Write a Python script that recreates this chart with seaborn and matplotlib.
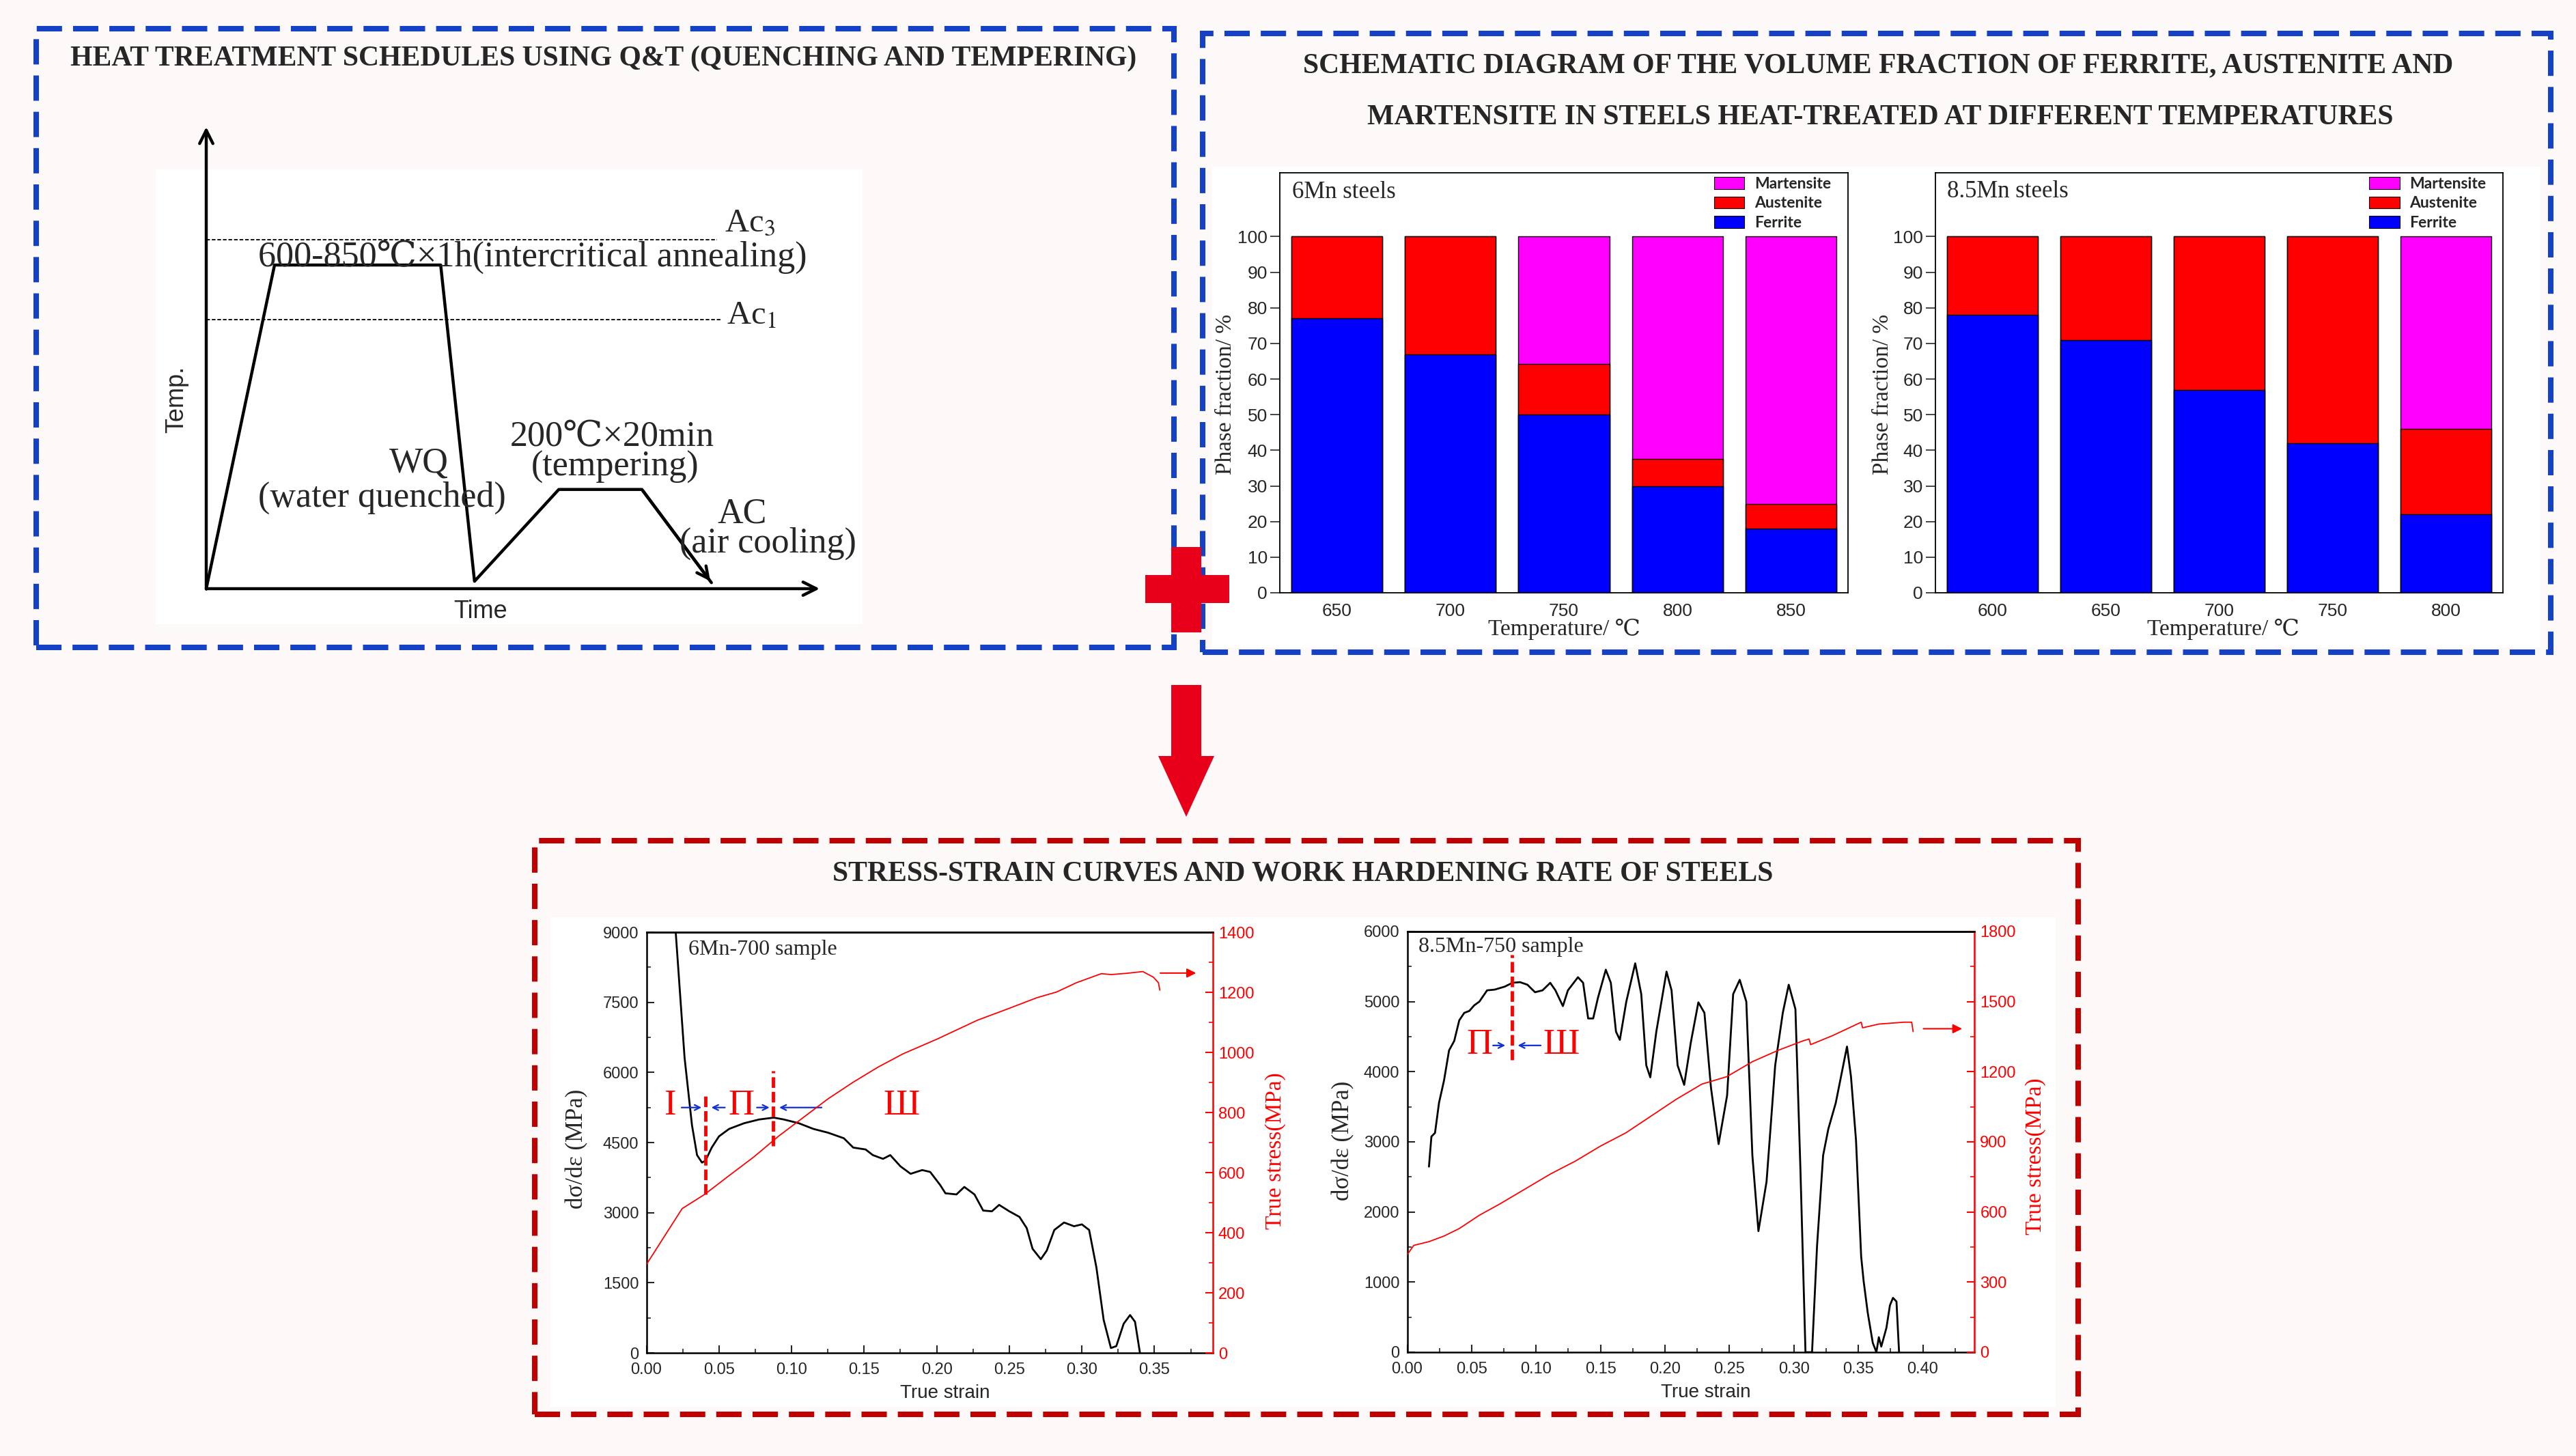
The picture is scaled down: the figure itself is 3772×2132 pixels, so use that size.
import numpy as np
import pandas as pd
import matplotlib
matplotlib.use('Agg')
import matplotlib.pyplot as plt
import seaborn as sns
from matplotlib.patches import Rectangle, Polygon, Patch
from matplotlib.ticker import MultipleLocator, FormatStrFormatter

# ---------------- data ----------------
# heat treatment schedule (schematic units, 0-100)
schedule_time = [0, 11.1, 38.1, 43.6, 57.3, 70.8, 82.1]
schedule_temp = [0, 69.8, 69.8, 1.6, 21.4, 21.4, 1.3]
ac3_temp = 75.3
ac1_temp = 58.0

# phase fractions (%)
temps_6mn = [650, 700, 750, 800, 850]
ferrite_6mn = [77, 67, 50, 30, 18]
austenite_6mn = [23, 33, 14.3, 7.5, 7]
martensite_6mn = [0, 0, 35.7, 62.5, 75]

temps_85mn = [600, 650, 700, 750, 800]
ferrite_85mn = [78, 71, 57, 42, 22]
austenite_85mn = [22, 29, 43, 58, 24]
martensite_85mn = [0, 0, 0, 0, 54]

# 6Mn-700: work hardening rate and true stress
strain_wh_6 = [0.0196, 0.0202, 0.0263, 0.0314, 0.0349, 0.0383, 0.0407, 0.045, 0.050, 0.057, 0.0673,
               0.0776, 0.0878, 0.0947, 0.105, 0.115, 0.125, 0.136, 0.1425, 0.151, 0.156, 0.163, 0.168,
               0.175, 0.182, 0.190, 0.1955, 0.2024, 0.206, 0.2136, 0.219, 0.226, 0.232, 0.238, 0.243,
               0.250, 0.257, 0.262, 0.266, 0.2717, 0.2758, 0.281, 0.2877, 0.2946, 0.300, 0.305, 0.310,
               0.315, 0.320, 0.3237, 0.3288, 0.3332, 0.3366, 0.340]
rate_6 = [9300, 9000, 6315, 4872, 4231, 4071, 4111, 4392, 4632, 4792, 4913,
          4993, 5033, 4993, 4913, 4792, 4712, 4592, 4392, 4352, 4231, 4151, 4231,
          3991, 3831, 3911, 3871, 3590, 3414, 3390, 3550, 3390, 3045, 3029, 3166,
          3029, 2909, 2669, 2228, 2004, 2188, 2629, 2789, 2709, 2749, 2629, 1827,
          705, 104, 144, 625, 809, 665, 0]
strain_ts_6 = [0.0, 0.0246, 0.040, 0.057, 0.074, 0.091, 0.108, 0.125, 0.1425, 0.1596, 0.1767, 0.2006,
               0.228, 0.2485, 0.269, 0.2826, 0.2963, 0.3134, 0.320, 0.3305, 0.342, 0.3493, 0.3527, 0.3537]
stress_6 = [294, 480, 527, 590, 652, 721, 783, 845, 901, 951, 995, 1045,
            1107, 1144, 1182, 1201, 1232, 1262, 1259, 1263, 1269, 1250, 1232, 1207]

# 8.5Mn-750: work hardening rate and true stress
strain_wh_85 = [0.0169, 0.0188, 0.0216, 0.0247, 0.0286, 0.0325, 0.0365, 0.0404, 0.0443, 0.0482, 0.052,
                0.056, 0.062, 0.0678, 0.0757, 0.0816, 0.0875, 0.0933, 0.0992, 0.105, 0.111, 0.115,
                0.1208, 0.1247, 0.1325, 0.1365, 0.1404, 0.1443, 0.148, 0.1541, 0.158, 0.162, 0.165,
                0.170, 0.1769, 0.1816, 0.1855, 0.1886, 0.1933, 0.2012, 0.2051, 0.2098, 0.2149, 0.220,
                0.2259, 0.2306, 0.2357, 0.2416, 0.2482, 0.2529, 0.258, 0.2631, 0.2678, 0.2725, 0.2788,
                0.2855, 0.2914, 0.296, 0.3012, 0.3051, 0.309, 0.3141, 0.318, 0.3227, 0.3267, 0.3325,
                0.3412, 0.3443, 0.3482, 0.3522, 0.3541, 0.3573, 0.3612, 0.364, 0.3659, 0.3678, 0.3718,
                0.3745, 0.3769, 0.3796, 0.3816]
rate_85 = [2647, 3075, 3128, 3556, 3877, 4305, 4439, 4733, 4840, 4867, 4947,
           5000, 5161, 5171, 5214, 5268, 5278, 5241, 5134, 5161, 5268, 5161,
           4936, 5161, 5348, 5268, 4760, 4760, 5054, 5455, 5268, 4572, 4455,
           5000, 5546, 5107, 4091, 3920, 4573, 5428, 5161, 4091, 3813, 4412,
           4990, 4840, 3770, 2968, 3663, 5107, 5311, 5000, 2808, 1727, 2433,
           4091, 4840, 5241, 4893, 2594, 0, 0, 1524, 2808, 3182, 3556,
           4359, 3931, 3022, 1364, 1016, 562, 134, 0, 214, 80, 348,
           668, 775, 722, 0]
strain_ts_85 = [0.0, 0.0051, 0.0169, 0.0286, 0.0404, 0.056, 0.0718, 0.0914, 0.111, 0.1306, 0.150,
                0.1698, 0.1894, 0.209, 0.2286, 0.248, 0.2678, 0.2875, 0.307, 0.3118, 0.313, 0.3306,
                0.3522, 0.3533, 0.3659, 0.3855, 0.3914, 0.3925]
stress_85 = [417, 457, 473, 497, 529, 586, 634, 698, 762, 818, 882,
             939, 1011, 1083, 1147, 1179, 1243, 1291, 1332, 1340, 1316, 1356,
             1412, 1388, 1404, 1412, 1412, 1372]

# stage boundaries (strain) drawn as dashed red lines
bounds_6 = [0.0407, 0.0875]
bounds_85 = [0.0812]

# ---------------- style ----------------
W, H = 3772, 2132
SERIF = ['Liberation Serif', 'DejaVu Serif', 'Noto Sans CJK SC']
SANS = ['Liberation Sans', 'DejaVu Sans']
BLUE_BOX = '#1441C6'
RED_BOX = '#C00000'
BG = '#FDF9F8'

sns.set_theme(style='ticks')
plt.rcParams['font.family'] = SANS
plt.rcParams['mathtext.fontset'] = 'stix'


def rect(l, t, r, b):
    return [l / W, 1 - b / H, (r - l) / W, (b - t) / H]


def fig_rect(fig, l, t, r, b, **kw):
    fig.add_artist(Rectangle((l / W, 1 - b / H), (r - l) / W, (b - t) / H,
                             transform=fig.transFigure, **kw))


def dashed_box(fig, l, t, r, b, color):
    fig_rect(fig, l, t, r, b, fill=False, ec=color, lw=5.8, ls=(0, (4.6, 2.0)), zorder=2)


def heat_panel(fig):
    fig_rect(fig, 228, 248, 1263, 914, fc='white', ec='none', zorder=-1)
    ax = fig.add_axes(rect(302, 183, 1203, 862))
    ax.set_xlim(0, 100)
    ax.set_ylim(0, 100)
    ax.axis('off')
    sns.lineplot(x=schedule_time, y=schedule_temp, sort=False, estimator=None,
                 color='black', lw=3.2, ax=ax)
    ax.annotate('', xy=(schedule_time[-1], schedule_temp[-1]),
                xytext=(schedule_time[-2], schedule_temp[-2]),
                arrowprops=dict(arrowstyle='->', lw=3.2, color='black', mutation_scale=30))
    for line in ax.lines:
        line.set_clip_on(False)
    # axes arrows
    ax.annotate('', xy=(0, 100), xytext=(0, -0.5), annotation_clip=False,
                arrowprops=dict(arrowstyle='->', lw=3.2, color='black', mutation_scale=35))
    ax.annotate('', xy=(100, 0), xytext=(-0.3, 0), annotation_clip=False,
                arrowprops=dict(arrowstyle='->', lw=3.2, color='black', mutation_scale=35))
    ax.plot([0, 83], [ac3_temp, ac3_temp], color='black', lw=1.3, ls=(0, (3, 1.5)))
    ax.plot([0, 83.6], [ac1_temp, ac1_temp], color='black', lw=1.3, ls=(0, (3, 1.5)))
    ax.text(84.2, 78.9, 'Ac$_3$', family=SERIF, fontsize=35, va='center', ha='left')
    ax.text(84.6, 58.8, 'Ac$_1$', family=SERIF, fontsize=35, va='center', ha='left')
    ax.text(8.4, 71.5, '600-850℃×1h(intercritical annealing)', family=SERIF, fontsize=37.5,
            va='center', ha='left')
    ax.text(34.6, 27.0, 'WQ', family=SERIF, fontsize=37.5, va='center', ha='center')
    ax.text(28.6, 19.6, '(water quenched)', family=SERIF, fontsize=37.5, va='center', ha='center')
    ax.text(66.0, 32.7, '200℃×20min', family=SERIF, fontsize=37.5, va='center', ha='center')
    ax.text(66.4, 26.2, '(tempering)', family=SERIF, fontsize=37.5, va='center', ha='center')
    ax.text(87.1, 16.1, 'AC', family=SERIF, fontsize=37.5, va='center', ha='center')
    ax.text(91.3, 9.7, '(air cooling)', family=SERIF, fontsize=37.5, va='center', ha='center')
    ax.text(-4.8, 40.8, 'Temp.', family=SANS, fontsize=26, va='center', ha='center', rotation=90)
    ax.text(44.6, -5.0, 'Time', family=SANS, fontsize=26, va='center', ha='center')


def bar_panel(fig, pos, temps, ferrite, austenite, martensite, name, name_xy, ylab_x, xlab_x):
    ax = fig.add_axes(pos)
    fa = np.add(ferrite, austenite)
    df = pd.DataFrame({'temp': [str(t) for t in temps], 'ferrite': ferrite,
                       'fa': fa, 'total': np.add(fa, martensite)})
    for col, c in [('total', '#FF00FF'), ('fa', '#FF0000'), ('ferrite', '#0000FF')]:
        sns.barplot(data=df, x='temp', y=col, color=c, saturation=1, width=0.8,
                    edgecolor='black', linewidth=1.0, errorbar=None, ax=ax)
    ax.set_xlim(-0.5, 4.5)
    ax.set_ylim(0, 117.9)
    ax.set_yticks(range(0, 101, 10))
    ax.tick_params(axis='y', direction='out', length=10, width=1.2, labelsize=19, pad=3)
    ax.tick_params(axis='x', length=0, labelsize=19, pad=11)
    for sp in ax.spines.values():
        sp.set_linewidth(1.3)
        sp.set_color('black')
    ax.set_ylabel('Phase fraction/ %', family=SERIF, fontsize=24)
    ax.yaxis.set_label_coords(ylab_x, 0.473)
    ax.set_xlabel('Temperature/ ℃', family=SERIF, fontsize=24, va='top')
    ax.xaxis.set_label_coords(xlab_x, -0.062)
    ax.text(name_xy[0], name_xy[1], name, transform=ax.transAxes, family=SERIF, fontsize=25,
            va='center', ha='left')
    handles = [Patch(fc='#FF00FF', ec='black', lw=0.8), Patch(fc='#FF0000', ec='black', lw=0.8),
               Patch(fc='#0000FF', ec='black', lw=0.8)]
    ax.legend(handles, ['Martensite', 'Austenite', 'Ferrite'], loc='upper left',
              bbox_to_anchor=(0.742, 1.02), frameon=False,
              prop={'family': 'Lato', 'weight': 'bold', 'size': 16.5},
              handlelength=1.95, handleheight=0.8, labelspacing=0.32, handletextpad=0.65,
              borderpad=0.3)


def strain_panel(fig, pos, strain_wh, rate, strain_ts, stress, xmax, rmax, rstep, smax, sstep,
                 sample, sample_xy, bounds, bound_spans, stage_texts, blue_arrows, end_arrow,
                 ylab_l, ylab_r, xlab_x):
    ax = fig.add_axes(pos)
    tw = ax.twinx()
    sns.lineplot(x=strain_wh, y=rate, sort=False, estimator=None, color='black', lw=2.0, ax=ax)
    sns.lineplot(x=strain_ts, y=stress, sort=False, estimator=None, color='red', lw=1.3, ax=tw)
    ax.set_xlim(0, xmax)
    ax.set_ylim(0, rmax)
    tw.set_ylim(0, smax)
    ax.xaxis.set_major_locator(MultipleLocator(0.05))
    ax.xaxis.set_minor_locator(MultipleLocator(0.025))
    ax.xaxis.set_major_formatter(FormatStrFormatter('%.2f'))
    ax.yaxis.set_major_locator(MultipleLocator(rstep))
    ax.yaxis.set_minor_locator(MultipleLocator(rstep / 2))
    tw.yaxis.set_major_locator(MultipleLocator(sstep))
    tw.yaxis.set_minor_locator(MultipleLocator(sstep / 2))
    ax.tick_params(axis='both', which='major', direction='in', length=8, width=1.5, labelsize=17)
    ax.tick_params(axis='both', which='minor', direction='in', length=4, width=1.2)
    ax.tick_params(axis='x', which='major', pad=10)
    ax.tick_params(axis='y', which='major', pad=8)
    tw.tick_params(axis='y', which='major', direction='in', length=8, width=1.5, labelsize=17,
                   colors='red', pad=6)
    tw.tick_params(axis='y', which='minor', direction='in', length=4, width=1.2, colors='red')
    for sp in ax.spines.values():
        sp.set_linewidth(1.8)
        sp.set_color('black')
    ax.spines['right'].set_visible(False)
    for sp in tw.spines.values():
        sp.set_linewidth(1.8)
        sp.set_color('black')
    tw.spines['right'].set_color('red')
    tw.spines['left'].set_visible(False)
    tw.spines['bottom'].set_visible(False)

    ax.set_xlabel('True strain', fontsize=20, va='top')
    ax.xaxis.set_label_coords(xlab_x, -0.074)
    ax.set_ylabel('dσ/dε (MPa)', family=SERIF, fontsize=25)
    ax.yaxis.set_label_coords(ylab_l[0], ylab_l[1])
    tw.set_ylabel('True stress(MPa)', family=SERIF, fontsize=24, color='red')
    tw.yaxis.set_label_coords(ylab_r[0], ylab_r[1])

    ax.text(sample_xy[0], sample_xy[1], sample, transform=ax.transAxes, family=SERIF,
            fontsize=23, va='center', ha='left')
    for b, (y0, y1) in zip(bounds, bound_spans):
        ax.plot([b, b], [y0, y1], color='red', lw=3.5, ls=(0, (3.2, 1.2)))
    for x, y, s in stage_texts:
        ax.text(x, y, s, family=SERIF, fontsize=38, color='red', va='center', ha='center')
    for x0, x1, y in blue_arrows:
        ax.annotate('', xy=(x1, y), xytext=(x0, y),
                    arrowprops=dict(arrowstyle='->', color='#1030D0', lw=1.6, mutation_scale=14))
    x0, x1, y = end_arrow
    tw.annotate('', xy=(x1, y), xytext=(x0, y),
                arrowprops=dict(arrowstyle='-|>', color='red', lw=1.5, mutation_scale=20))


def main():
    fig = plt.figure(figsize=(W / 100, H / 100), dpi=100, facecolor=BG)

    # ---- top-left: heat treatment schedule ----
    dashed_box(fig, 53, 42, 1719, 948, BLUE_BOX)
    fig.text(884 / W, 1 - 86 / H, 'HEAT TREATMENT SCHEDULES USING Q&T (QUENCHING AND TEMPERING)',
             family=SERIF, weight='bold', fontsize=30, ha='center', va='center')
    heat_panel(fig)

    # ---- top-right: phase fractions ----
    dashed_box(fig, 1761, 49, 3735, 955, BLUE_BOX)
    fig_rect(fig, 1775, 244, 3720, 948, fc='white', ec='none', zorder=-1)
    fig.text(2750 / W, 1 - 96 / H,
             'SCHEMATIC DIAGRAM OF THE VOLUME FRACTION OF FERRITE, AUSTENITE AND',
             family=SERIF, weight='bold', fontsize=30, ha='center', va='center')
    fig.text(2753 / W, 1 - 172 / H, 'MARTENSITE IN STEELS HEAT-TREATED AT DIFFERENT TEMPERATURES',
             family=SERIF, weight='bold', fontsize=30, ha='center', va='center')
    bar_panel(fig, rect(1874, 253, 2706, 868), temps_6mn, ferrite_6mn, austenite_6mn,
              martensite_6mn, '6Mn steels', (0.022, 0.953), -0.077, 0.501)
    bar_panel(fig, rect(2834, 253, 3665, 868), temps_85mn, ferrite_85mn, austenite_85mn,
              martensite_85mn, '8.5Mn steels', (0.020, 0.955), -0.075, 0.507)

    # ---- connectors: plus and down arrow ----
    fig_rect(fig, 1677, 842, 1800, 883, fc='#E8001A', ec='none', zorder=5)
    fig_rect(fig, 1715, 801, 1759, 926, fc='#E8001A', ec='none', zorder=5)
    fig_rect(fig, 1715, 1003, 1759, 1110, fc='#E8001A', ec='none', zorder=5)
    fig.add_artist(Polygon([(1696 / W, 1 - 1107 / H), (1778 / W, 1 - 1107 / H),
                            (1737 / W, 1 - 1196 / H)], closed=True, transform=fig.transFigure,
                           fc='#E8001A', ec='none', zorder=5))

    # ---- bottom: stress-strain curves ----
    dashed_box(fig, 783, 1231, 3043, 2071, RED_BOX)
    fig_rect(fig, 806, 1343, 3010, 2060, fc='white', ec='none', zorder=-1)
    fig.text(1908 / W, 1 - 1279 / H, 'STRESS-STRAIN CURVES AND WORK HARDENING RATE OF STEELS',
             family=SERIF, weight='bold', fontsize=30, ha='center', va='center')
    strain_panel(fig, rect(946.5, 1365, 1775.5, 1981), strain_wh_6, rate_6, strain_ts_6, stress_6,
                 0.39, 9000, 1500, 1400, 200, '6Mn-700 sample', (0.074, 0.959),
                 bounds_6, [(3390, 5514), (4432, 6034)],
                 [(0.016, 5289, 'I'), (0.0656, 5289, 'П'), (0.176, 5289, 'Ш')],
                 [(0.0229, 0.0393, 5249), (0.0554, 0.0434, 5249), (0.0748, 0.0861, 5249),
                  (0.122, 0.0902, 5249)],
                 (0.3527, 0.380, 1264), (-0.103, 0.484), (1.092, 0.481), 0.528)
    strain_panel(fig, rect(2060.5, 1364, 2891, 1980), strain_wh_85, rate_85, strain_ts_85,
                 stress_85, 0.44, 6000, 1000, 1800, 300, '8.5Mn-750 sample', (0.020, 0.963),
                 bounds_85, [(4171, 5669)],
                 [(0.056, 4385, 'П'), (0.1196, 4385, 'Ш')],
                 [(0.0651, 0.0776, 4375), (0.1051, 0.0843, 4375)],
                 (0.399, 0.432, 1384), (-0.093, 0.502), (1.089, 0.466), 0.527)

    fig.savefig('out.png', dpi=100, facecolor=fig.get_facecolor())


if __name__ == "__main__":
    main()
